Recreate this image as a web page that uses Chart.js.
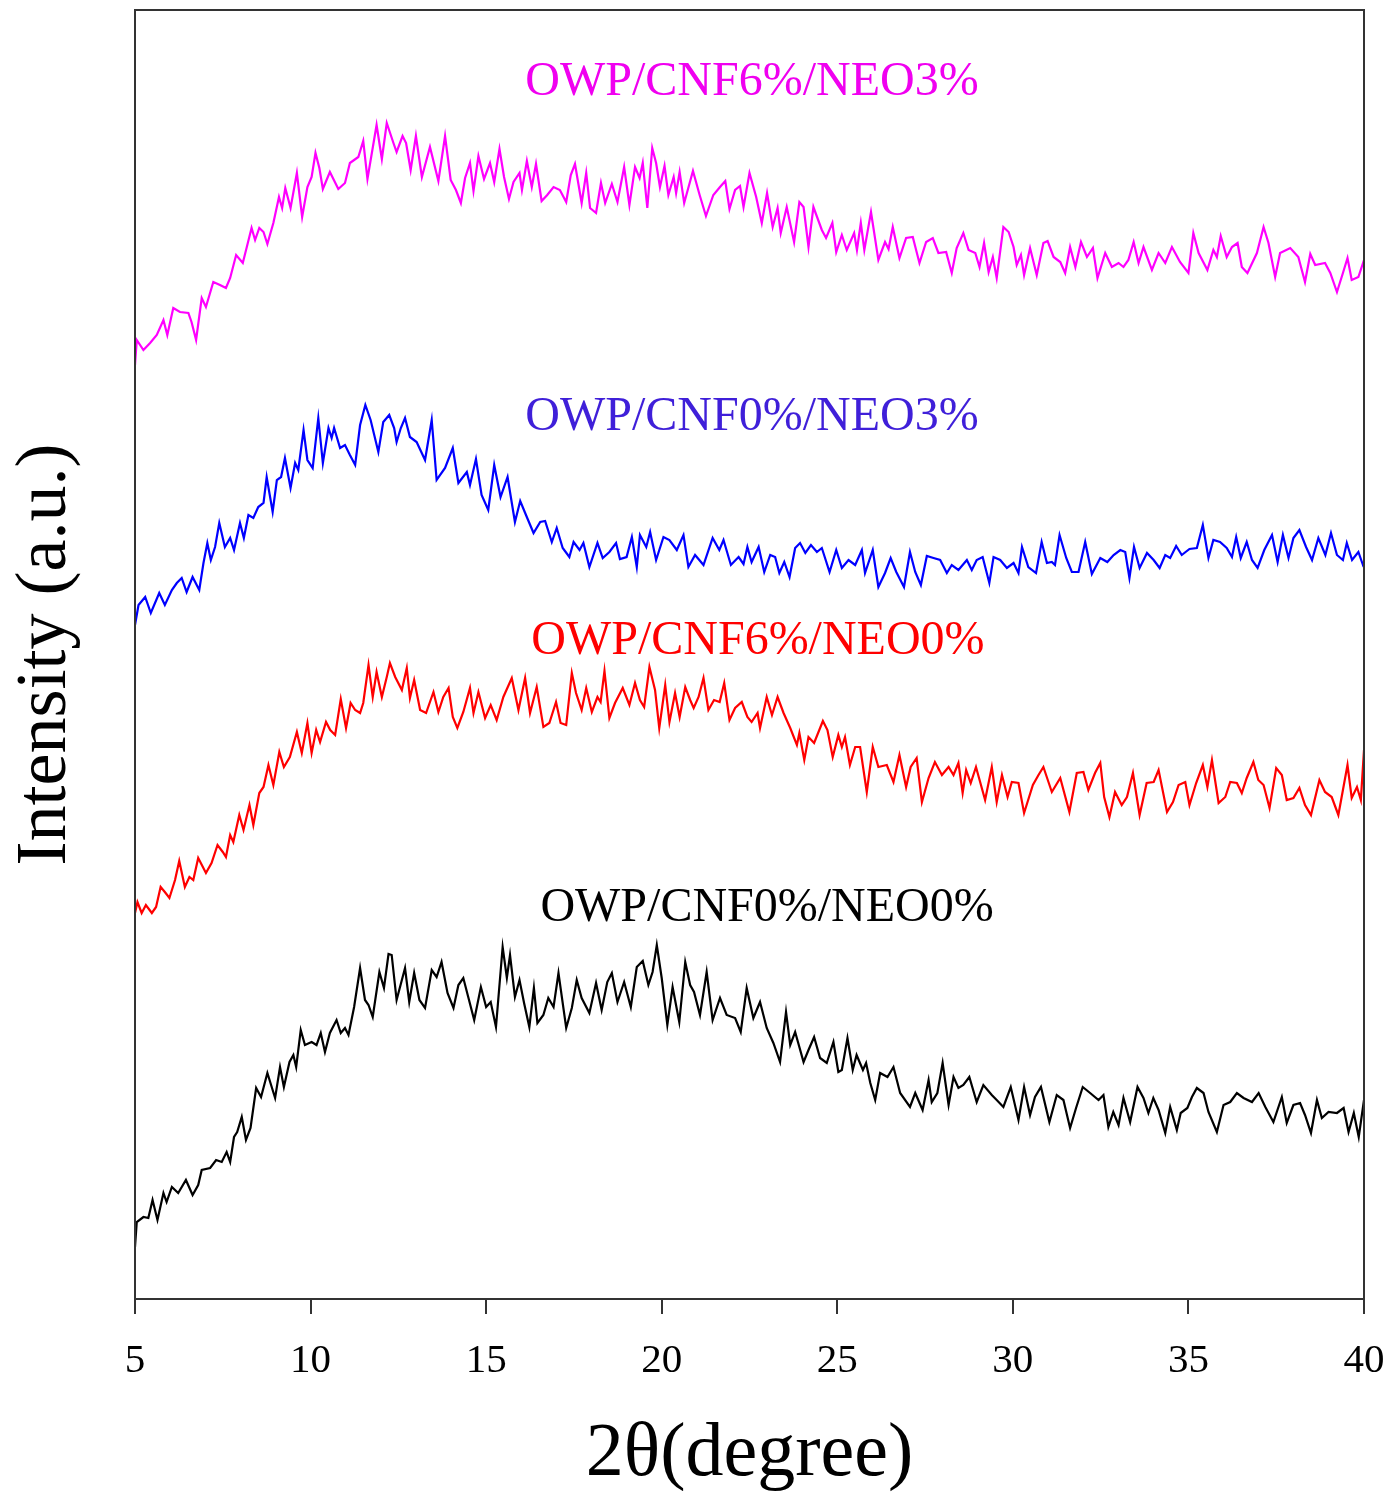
<!DOCTYPE html>
<html lang="en">
<head>
  <meta charset="UTF-8">
  <title>XRD patterns</title>
  <script src="https://cdn.jsdelivr.net/npm/chart.js"></script>
  <style>
    html, body { margin: 0; padding: 0; background: #fff; }
    #wrap { width: 1388px; height: 1494px; position: relative; }
  </style>
</head>
<body>
  <div id="wrap"><canvas id="xrdChart"></canvas></div>

  <script>
    // 2-theta (degree) and intensity (a.u.)
    const angleCNF6NEO3 = [
      5.00,5.05,5.24,5.43,5.62,5.81,5.92,6.09,6.28,6.52,6.61,6.74,6.90,7.02,7.23,7.42,7.59,7.71,7.88,8.07,
      8.32,8.42,8.54,8.66,8.77,8.94,9.10,9.19,9.28,9.43,9.61,9.76,9.91,10.03,10.14,10.25,10.35,10.55,10.79,10.98,
      11.12,11.36,11.50,11.62,11.88,12.03,12.17,12.36,12.45,12.62,12.72,12.85,13.00,13.17,13.40,13.64,13.83,13.99,14.14,14.28,
      14.40,14.54,14.64,14.78,14.94,15.11,15.23,15.38,15.51,15.65,15.78,15.95,16.02,16.16,16.30,16.42,16.58,16.74,16.92,17.10,
      17.28,17.41,17.53,17.72,17.85,17.96,18.13,18.27,18.39,18.58,18.74,18.93,19.08,19.24,19.37,19.46,19.59,19.73,19.84,19.95,
      20.08,20.19,20.34,20.41,20.51,20.64,20.89,21.08,21.26,21.47,21.66,21.81,21.93,22.09,22.23,22.33,22.50,22.69,22.85,23.00,
      23.16,23.30,23.39,23.56,23.77,23.92,24.04,24.18,24.32,24.56,24.68,24.86,24.97,25.13,25.27,25.48,25.56,25.67,25.77,25.96,
      26.17,26.36,26.46,26.58,26.77,26.96,27.15,27.34,27.53,27.72,27.88,28.10,28.26,28.40,28.59,28.74,28.93,29.05,29.18,29.31,
      29.43,29.54,29.73,29.88,30.02,30.11,30.23,30.32,30.49,30.68,30.87,30.99,31.16,31.35,31.49,31.63,31.78,31.94,32.11,32.28,
      32.41,32.63,32.82,33.01,33.15,33.29,33.44,33.58,33.72,33.96,34.15,34.34,34.53,34.76,35.00,35.14,35.29,35.54,35.71,35.81,
      35.92,36.09,36.24,36.40,36.52,36.68,36.95,37.14,37.28,37.47,37.61,37.90,38.13,38.32,38.47,38.61,38.89,39.04,39.23,39.40,
      39.53,39.65,39.84,40.00
    ];
    const intCNF6NEO3 = [
      934,959,949,956,964,979,964,991,987,986,977,959,1001,992,1017,1014,1011,1021,1044,1036,
      1071,1059,1071,1067,1055,1076,1102,1091,1111,1091,1126,1082,1112,1122,1146,1131,1110,1127,1110,1116,
      1136,1142,1158,1120,1174,1140,1176,1156,1147,1163,1156,1129,1163,1122,1152,1118,1163,1119,1109,1096,
      1121,1136,1108,1143,1120,1136,1117,1150,1122,1100,1117,1126,1109,1138,1112,1135,1098,1104,1112,1109,
      1097,1124,1135,1096,1126,1091,1086,1116,1096,1115,1097,1132,1094,1132,1121,1136,1091,1151,1136,1112,
      1133,1104,1122,1106,1127,1096,1128,1104,1083,1104,1112,1118,1090,1109,1113,1092,1126,1102,1076,1106,
      1072,1091,1066,1092,1057,1097,1092,1052,1092,1069,1061,1076,1047,1064,1049,1066,1049,1076,1049,1087,
      1039,1057,1050,1072,1041,1061,1062,1036,1057,1061,1046,1047,1026,1051,1066,1049,1046,1032,1056,1027,
      1042,1021,1072,1067,1052,1034,1044,1024,1051,1024,1056,1058,1042,1037,1026,1052,1032,1057,1042,1051,
      1021,1046,1032,1036,1032,1039,1057,1036,1052,1029,1046,1036,1052,1037,1026,1066,1046,1029,1049,1042,
      1063,1042,1052,1056,1032,1026,1046,1072,1056,1022,1046,1051,1042,1017,1045,1034,1036,1026,1007,1026,
      1041,1019,1022,1039
    ];

    const angleCNF0NEO3 = [
      5.00,5.10,5.29,5.45,5.69,5.85,6.05,6.19,6.33,6.47,6.64,6.83,6.95,7.06,7.16,7.28,7.40,7.56,7.71,7.82,
      7.99,8.10,8.23,8.37,8.51,8.66,8.75,8.92,9.04,9.16,9.27,9.43,9.56,9.65,9.80,9.91,10.06,10.22,10.35,10.51,
      10.60,10.67,10.84,10.98,11.12,11.27,11.41,11.56,11.71,11.93,12.07,12.24,12.38,12.45,12.57,12.69,12.83,13.02,13.26,13.45,
      13.59,13.83,14.05,14.21,14.45,14.54,14.71,14.87,15.06,15.23,15.41,15.61,15.82,15.97,16.17,16.35,16.54,16.68,16.87,17.01,
      17.18,17.37,17.49,17.66,17.77,17.94,18.17,18.32,18.51,18.70,18.81,19.00,19.15,19.29,19.38,19.56,19.67,19.84,20.05,20.22,
      20.43,20.62,20.76,20.95,21.19,21.45,21.64,21.76,21.97,22.19,22.33,22.44,22.56,22.76,22.92,23.09,23.23,23.35,23.49,23.64,
      23.80,23.94,24.09,24.25,24.42,24.56,24.78,24.97,25.13,25.32,25.51,25.70,25.79,26.01,26.17,26.36,26.52,26.68,26.90,27.07,
      27.22,27.38,27.55,27.74,27.93,28.12,28.26,28.45,28.69,28.83,28.97,29.14,29.33,29.45,29.64,29.83,30.02,30.16,30.26,30.44,
      30.66,30.82,30.97,31.11,31.20,31.33,31.52,31.68,31.87,32.06,32.25,32.49,32.69,32.87,33.06,33.20,33.32,33.45,33.61,33.82,
      34.01,34.18,34.34,34.48,34.65,34.81,35.03,35.24,35.41,35.57,35.71,35.90,36.09,36.24,36.36,36.49,36.66,36.81,36.97,37.16,
      37.38,37.54,37.69,37.85,37.99,38.16,38.35,38.52,38.70,38.90,39.06,39.23,39.40,39.51,39.66,39.84,39.99
    ];
    const intCNF0NEO3 = [
      674,694,702,686,706,694,709,716,721,707,722,709,736,756,739,752,776,752,761,749,
      776,761,784,781,792,796,822,787,819,822,841,811,836,829,869,839,831,881,836,871,
      861,871,851,854,844,834,874,894,879,847,877,884,871,857,871,881,862,857,839,879,
      819,831,851,816,827,814,840,804,789,834,802,822,777,798,781,766,777,778,757,771,
      751,742,757,749,756,732,756,741,747,756,740,742,762,732,764,752,767,739,762,759,
      749,764,732,744,734,761,749,759,734,742,735,752,737,752,727,744,742,726,737,722,
      751,756,746,754,747,751,727,749,731,739,734,749,726,749,712,726,741,727,712,747,
      727,714,743,741,739,726,734,729,739,729,739,742,716,742,739,731,736,726,752,732,
      726,757,736,737,734,764,741,727,727,757,725,741,737,744,749,747,721,752,731,746,
      739,731,744,741,753,744,750,751,774,741,759,757,751,742,762,741,757,739,731,749,
      764,737,764,741,761,769,752,739,761,744,766,744,739,756,739,747,732
    ];

    const angleCNF6NEO0 = [
      5.00,5.07,5.19,5.31,5.48,5.60,5.73,5.85,5.98,6.14,6.26,6.42,6.55,6.66,6.80,7.02,7.18,7.35,7.50,7.59,
      7.71,7.80,7.97,8.09,8.26,8.37,8.54,8.66,8.80,8.94,9.11,9.24,9.41,9.61,9.75,9.91,10.03,10.16,10.27,10.44,
      10.56,10.70,10.86,11.01,11.14,11.27,11.41,11.50,11.65,11.77,11.88,12.03,12.17,12.26,12.41,12.60,12.74,12.83,12.95,13.12,
      13.29,13.50,13.64,13.78,13.93,14.05,14.18,14.35,14.54,14.64,14.78,14.97,15.13,15.30,15.49,15.73,15.92,16.11,16.25,16.44,
      16.63,16.80,16.99,17.12,17.28,17.44,17.56,17.72,17.85,18.01,18.17,18.26,18.37,18.51,18.67,18.89,19.08,19.24,19.38,19.50,
      19.65,19.81,19.93,20.10,20.22,20.38,20.51,20.67,20.81,20.91,21.05,21.19,21.33,21.49,21.65,21.78,21.93,22.09,22.28,22.44,
      22.56,22.73,22.80,22.99,23.14,23.30,23.47,23.66,23.85,23.92,24.06,24.18,24.34,24.59,24.72,24.87,25.03,25.13,25.22,25.36,
      25.51,25.65,25.84,26.01,26.17,26.41,26.60,26.77,26.96,27.09,27.26,27.41,27.60,27.78,27.98,28.17,28.31,28.45,28.57,28.67,
      28.80,28.95,29.21,29.40,29.54,29.69,29.85,29.97,30.16,30.32,30.57,30.73,30.87,31.11,31.35,31.61,31.82,32.01,32.15,32.34,
      32.49,32.60,32.75,32.91,33.10,33.25,33.42,33.61,33.81,34.01,34.15,34.39,34.56,34.72,34.91,35.03,35.22,35.41,35.54,35.67,
      35.86,36.05,36.19,36.38,36.52,36.66,36.85,36.99,37.14,37.31,37.50,37.66,37.80,37.99,38.16,38.32,38.49,38.73,38.89,39.08,
      39.27,39.40,39.53,39.65,39.80,39.91,40.00
    ];
    const intCNF6NEO0 = [
      386,397,386,394,386,392,412,407,401,419,438,412,422,419,441,426,436,454,447,442,
      464,457,484,469,494,474,506,512,534,514,547,532,542,567,546,576,546,569,557,577,
      569,564,600,571,596,589,586,596,634,602,627,602,622,636,622,609,631,601,619,589,
      586,607,587,602,611,582,571,587,611,586,607,581,594,579,602,621,589,621,586,612,
      572,576,597,576,574,626,606,589,611,587,602,597,628,581,596,611,594,616,599,592,
      632,609,571,614,577,606,582,612,599,591,602,621,589,599,597,616,579,591,597,582,
      577,586,571,602,584,602,586,571,554,566,539,562,556,578,569,542,564,552,562,534,
      552,552,507,552,532,534,517,544,512,532,541,497,521,537,524,532,524,536,506,529,
      516,532,499,532,497,524,502,517,516,486,514,524,532,507,521,487,526,527,509,526,
      536,502,482,507,494,502,526,484,516,517,529,487,497,514,517,494,516,534,512,539,
      496,502,517,516,506,521,537,519,514,491,531,524,499,501,511,494,484,519,507,502,
      484,509,534,501,512,499,549
    ];

    const angleCNF0NEO0 = [
      5.00,5.05,5.24,5.38,5.50,5.64,5.81,5.90,6.05,6.23,6.45,6.64,6.80,6.90,7.14,7.31,7.47,7.61,7.71,7.82,
      7.91,8.04,8.16,8.29,8.45,8.59,8.77,8.99,9.13,9.24,9.40,9.51,9.59,9.72,9.84,10.03,10.17,10.29,10.41,10.55,
      10.74,10.86,10.98,11.08,11.24,11.41,11.55,11.65,11.77,11.96,12.09,12.22,12.31,12.45,12.69,12.81,12.95,13.10,13.26,13.45,
      13.59,13.73,13.90,14.07,14.21,14.35,14.49,14.66,14.85,15.00,15.13,15.28,15.47,15.59,15.68,15.82,15.95,16.08,16.23,16.36,
      16.46,16.63,16.77,16.92,17.06,17.28,17.44,17.58,17.72,17.94,18.13,18.29,18.45,18.58,18.74,18.93,19.12,19.29,19.46,19.62,
      19.74,19.86,20.00,20.16,20.31,20.50,20.67,20.81,20.92,21.09,21.28,21.45,21.66,21.85,22.09,22.25,22.42,22.61,22.80,22.99,
      23.18,23.37,23.54,23.66,23.80,24.04,24.18,24.34,24.51,24.70,24.89,25.03,25.13,25.29,25.44,25.55,25.73,25.82,25.94,26.08,
      26.22,26.43,26.60,26.79,27.07,27.22,27.43,27.60,27.69,27.85,28.00,28.17,28.31,28.45,28.59,28.76,28.97,29.16,29.40,29.54,
      29.73,29.94,30.16,30.32,30.49,30.63,30.80,31.04,31.25,31.44,31.63,31.80,31.99,32.20,32.44,32.58,32.72,32.86,33.01,33.15,
      33.34,33.55,33.72,33.86,34.00,34.15,34.34,34.48,34.67,34.78,34.97,35.10,35.24,35.43,35.57,35.81,36.00,36.19,36.38,36.57,
      36.81,37.00,37.19,37.42,37.66,37.80,37.99,38.18,38.32,38.49,38.66,38.80,38.99,39.23,39.42,39.56,39.71,39.85,40.00
    ];
    const intCNF0NEO0 = [
      52,77,82,81,99,79,106,97,112,106,119,104,114,129,131,139,137,147,137,162,
      167,182,159,171,211,202,226,201,232,212,237,244,232,269,254,257,254,266,247,266,
      279,266,271,264,292,331,299,294,282,327,311,345,344,299,331,297,326,299,291,329,
      322,337,306,291,314,321,302,279,312,292,297,272,352,321,344,302,319,296,272,311,
      276,284,301,292,326,271,291,319,301,286,316,289,317,326,297,317,292,332,338,314,
      327,354,321,274,312,277,337,314,307,284,327,279,301,284,281,267,311,281,297,271,
      256,237,287,254,267,237,249,262,241,236,257,227,229,261,229,244,229,236,216,199,
      226,222,232,206,192,206,189,219,197,206,236,194,222,211,214,222,197,214,204,199,
      192,212,179,212,184,202,212,177,204,199,171,191,212,206,199,204,172,187,174,201,
      177,212,201,186,201,189,166,192,169,186,191,202,211,206,187,167,194,197,206,201,
      197,206,192,177,202,176,194,196,184,166,199,181,187,186,191,167,186,162,199
    ];

    const seriesNames = ['OWP/CNF6%/NEO3%', 'OWP/CNF0%/NEO3%', 'OWP/CNF6%/NEO0%', 'OWP/CNF0%/NEO0%'];
    const xTickValues = [5, 10, 15, 20, 25, 30, 35, 40];

    const lineColors = ['#ff00ff', '#0000ff', '#ff0000', '#000000'];
    const labelColors = ['#f000f0', '#3f1fd9', '#ff0000', '#000000'];
    // label anchor in data units (angle, intensity), baseline-centered
    const labelAnchors = [[22.57, 1204], [22.57, 869], [22.74, 645], [23.0, 378]];

    const serif = '"Liberation Serif", "Times New Roman", serif';

    function toPoints(xs, ys) {
      const n = Math.min(xs.length, ys.length);
      const out = [];
      for (let i = 0; i < n; i++) out.push({ x: xs[i], y: ys[i] });
      return out;
    }

    const seriesData = [
      toPoints(angleCNF6NEO3, intCNF6NEO3),
      toPoints(angleCNF0NEO3, intCNF0NEO3),
      toPoints(angleCNF6NEO0, intCNF6NEO0),
      toPoints(angleCNF0NEO0, intCNF0NEO0)
    ];

    const framePlugin = {
      id: 'frame',
      beforeDraw(chart) {
        const ctx = chart.ctx;
        ctx.save();
        ctx.fillStyle = '#ffffff';
        ctx.fillRect(0, 0, chart.width, chart.height);
        ctx.restore();
      },
      afterDraw(chart) {
        const { ctx, chartArea: a } = chart;
        ctx.save();
        ctx.strokeStyle = '#333333';
        ctx.lineWidth = 2;
        ctx.strokeRect(a.left, a.top, a.right - a.left, a.bottom - a.top);
        ctx.restore();
      }
    };

    const labelPlugin = {
      id: 'seriesLabels',
      afterDatasetsDraw(chart) {
        const { ctx, scales } = chart;
        ctx.save();
        ctx.font = '48px ' + serif;
        ctx.textAlign = 'center';
        ctx.textBaseline = 'alphabetic';
        seriesNames.forEach((name, i) => {
          ctx.fillStyle = labelColors[i];
          ctx.fillText(name,
            scales.x.getPixelForValue(labelAnchors[i][0]),
            scales.y.getPixelForValue(labelAnchors[i][1]));
        });
        ctx.restore();
      }
    };

    const ctx = document.getElementById('xrdChart').getContext('2d');
    new Chart(ctx, {
      type: 'scatter',
      data: {
        datasets: seriesData.map((pts, i) => ({
          label: seriesNames[i],
          data: pts,
          showLine: true,
          borderColor: lineColors[i],
          backgroundColor: lineColors[i],
          borderWidth: 2.2,
          pointRadius: 0,
          tension: 0
        }))
      },
      options: {
        responsive: true,
        maintainAspectRatio: false,
        animation: false,
        layout: { padding: { left: 0, right: 24, top: 10, bottom: 0 } },
        plugins: {
          legend: { display: false },
          tooltip: { enabled: false }
        },
        scales: {
          x: {
            type: 'linear',
            min: 5,
            max: 40,
            afterFit(scale) {
              scale.height = 195;
              scale.paddingLeft = 0;
              scale.paddingRight = 0;
            },
            afterBuildTicks(scale) { scale.ticks = xTickValues.map(v => ({ value: v })); },
            ticks: {
              color: '#000',
              font: { family: serif, size: 41 },
              padding: 23,
              maxRotation: 0
            },
            grid: {
              drawOnChartArea: false,
              drawTicks: true,
              tickLength: 15,
              color: '#333',
              lineWidth: 2
            },
            border: { display: false },
            title: {
              display: true,
              text: '2θ(degree)',
              color: '#000',
              font: { family: serif, size: 76, lineHeight: 1 },
              padding: { top: 0, bottom: 1 }
            }
          },
          y: {
            min: 0,
            max: 1289,
            afterFit(scale) { scale.width = 135; },
            ticks: { display: false },
            grid: { display: false },
            border: { display: false },
            title: {
              display: true,
              text: 'Intensity (a.u.)',
              color: '#000',
              font: { family: serif, size: 72, lineHeight: 1 },
              padding: { top: 10, bottom: 0 }
            }
          }
        }
      },
      plugins: [framePlugin, labelPlugin]
    });
  </script>
</body>
</html>
